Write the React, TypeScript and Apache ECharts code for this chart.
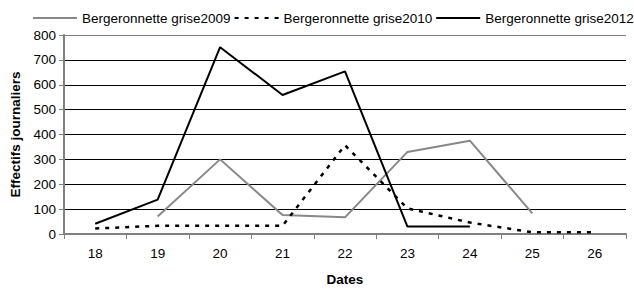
import React, { useEffect, useRef } from "react";
import * as echarts from "echarts";

const categories = ["18", "19", "20", "21", "22", "23", "24", "25", "26"];
const s2009 = [null, 70, 300, 76, 67, 330, 375, 83, null];
const s2010 = [22, 33, 33, 33, 357, 103, 46, 7, 7];
const s2012 = [41, 138, 751, 559, 654, 30, 30, null, null];
const names = ["Bergeronnette grise2009", "Bergeronnette grise2010", "Bergeronnette grise2012"];

export default function App() {
  const ref = useRef<HTMLDivElement>(null);
  useEffect(() => {
    const chart = echarts.init(ref.current!, null, { renderer: "svg" });
    const font = "Liberation Sans, Arial, sans-serif";
    chart.setOption({
      animation: false,
      textStyle: { fontFamily: font },
      legend: {
        top: 11,
        left: 32,
        padding: 0,
        itemWidth: 44,
        itemHeight: 14,
        itemGap: 3,
        itemStyle: { opacity: 0 },
        textStyle: { fontSize: 13.5, color: "#000", fontFamily: font },
        data: names,
      },
      grid: { left: 64, right: 8, top: 35, bottom: 53, containLabel: false },
      xAxis: {
        type: "category",
        data: categories,
        boundaryGap: true,
        name: "Dates",
        nameLocation: "middle",
        nameGap: 38,
        nameTextStyle: { fontWeight: "bold", fontSize: 13.5, color: "#000", fontFamily: font },
        axisLine: { lineStyle: { color: "#808080", width: 2 } },
        axisTick: { show: true, length: 5, lineStyle: { color: "#808080", width: 1 } },
        axisLabel: { color: "#000", fontSize: 13.5, margin: 12, fontFamily: font },
      },
      yAxis: {
        type: "value",
        min: 0,
        max: 800,
        interval: 100,
        name: "Effectifs journaliers",
        nameLocation: "middle",
        nameGap: 42,
        nameTextStyle: { fontWeight: "bold", fontSize: 13.5, color: "#000", fontFamily: font },
        axisLine: { show: true, lineStyle: { color: "#808080", width: 2 } },
        axisTick: { show: true, length: 5, lineStyle: { color: "#808080" } },
        axisLabel: { color: "#000", fontSize: 13.5, margin: 8, fontFamily: font },
        splitLine: {
          lineStyle: {
            color: ["#000", "#000", "#000", "#000", "#000", "#000", "#000", "#000", "#808080"],
            width: 1,
          },
        },
      },
      series: [
        {
          name: names[0],
          type: "line",
          data: s2009,
          symbol: "none",
          connectNulls: false,
          lineStyle: { color: "#888888", width: 2 },
          itemStyle: { color: "#888888" },
        },
        {
          name: names[1],
          type: "line",
          data: s2010,
          symbol: "none",
          lineStyle: { color: "#000", width: 2.5, type: [4, 6] },
          itemStyle: { color: "#000" },
        },
        {
          name: names[2],
          type: "line",
          data: s2012,
          symbol: "none",
          lineStyle: { color: "#000", width: 2 },
          itemStyle: { color: "#000" },
        },
      ],
    });
    return () => chart.dispose();
  }, []);
  return <div ref={ref} style={{ width: 634, height: 291, position: "absolute", left: 0, top: 0 }} />;
}
